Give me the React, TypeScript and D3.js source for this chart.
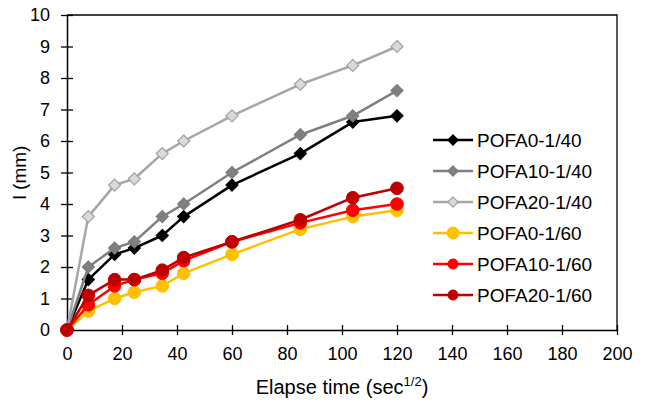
import React, { useEffect, useRef } from "react";
import * as d3 from "d3";

// elapsed time in sqrt(seconds)
const times = [0, 7.75, 17.32, 24.49, 34.64, 42.43, 60, 84.85, 103.92, 120];

const pofa0_40 = [0, 1.6, 2.4, 2.6, 3.0, 3.6, 4.6, 5.6, 6.6, 6.8];
const pofa10_40 = [0, 2.0, 2.6, 2.8, 3.6, 4.0, 5.0, 6.2, 6.8, 7.6];
const pofa20_40 = [0, 3.6, 4.6, 4.8, 5.6, 6.0, 6.8, 7.8, 8.4, 9.0];
const pofa0_60 = [0, 0.6, 1.0, 1.2, 1.4, 1.8, 2.4, 3.2, 3.6, 3.8];
const pofa10_60 = [0, 0.8, 1.4, 1.6, 1.8, 2.2, 2.8, 3.4, 3.8, 4.0];
const pofa20_60 = [0, 1.1, 1.6, 1.6, 1.9, 2.3, 2.8, 3.5, 4.2, 4.5];

const xTicks = [0, 20, 40, 60, 80, 100, 120, 140, 160, 180, 200];
const yTicks = [0, 1, 2, 3, 4, 5, 6, 7, 8, 9, 10];

const series = [
  { name: "POFA0-1/40", values: pofa0_40, line: "#000000", fill: "#000000", stroke: "#000000", shape: "diamond" },
  { name: "POFA10-1/40", values: pofa10_40, line: "#808080", fill: "#808080", stroke: "#7a7a7a", shape: "diamond" },
  { name: "POFA20-1/40", values: pofa20_40, line: "#a6a6a6", fill: "#d9d9d9", stroke: "#a0a0a0", shape: "diamond" },
  { name: "POFA0-1/60", values: pofa0_60, line: "#ffc000", fill: "#ffc000", stroke: "#ffc000", shape: "circle" },
  { name: "POFA10-1/60", values: pofa10_60, line: "#ff0000", fill: "#ff0000", stroke: "#ff0000", shape: "circle" },
  { name: "POFA20-1/60", values: pofa20_60, line: "#c00000", fill: "#c00000", stroke: "#c00000", shape: "circle" },
];

const FONT = "'Liberation Sans', Arial, sans-serif";

const App = () => {
  const svgRef = useRef<SVGSVGElement>(null);

  useEffect(() => {
    const width = 648;
    const height = 403;
    const margin = { top: 15, right: 31, bottom: 73, left: 67 };

    const svg = d3.select(svgRef.current).attr("width", width).attr("height", height);
    svg.selectAll("*").remove();

    const x = d3.scaleLinear().domain([0, 200]).range([margin.left, width - margin.right]);
    const y = d3.scaleLinear().domain([0, 10]).range([height - margin.bottom, margin.top]);

    // frame (top + right)
    svg
      .append("path")
      .attr("d", `M${x(0)},${y(10)}H${x(200)}V${y(0)}`)
      .attr("fill", "none")
      .attr("stroke", "#000")
      .attr("stroke-width", 1.3);

    // x axis
    const xAxis = svg
      .append("g")
      .attr("transform", `translate(0,${y(0)})`)
      .call(d3.axisBottom(x).tickValues(xTicks).tickSize(0).tickPadding(17));
    xAxis.select(".domain").attr("stroke-width", 1.5);
    xAxis.selectAll(".tick line").remove();
    xAxis
      .selectAll(".tick")
      .append("line")
      .attr("y1", -5)
      .attr("y2", 5)
      .attr("stroke", "#000")
      .attr("stroke-width", 1.3);
    xAxis.selectAll("text").attr("font-size", 18).attr("font-family", FONT).attr("fill", "#000");

    // y axis
    const yAxis = svg
      .append("g")
      .attr("transform", `translate(${x(0)},0)`)
      .call(d3.axisLeft(y).tickValues(yTicks).tickSize(0).tickPadding(17));
    yAxis.select(".domain").attr("stroke-width", 1.5);
    yAxis.selectAll(".tick line").remove();
    yAxis
      .selectAll(".tick")
      .append("line")
      .attr("x1", -6)
      .attr("x2", 6)
      .attr("stroke", "#000")
      .attr("stroke-width", 1.3);
    yAxis.selectAll("text").attr("font-size", 18).attr("font-family", FONT).attr("fill", "#000");

    const diamond = (r: number) => `M0,${-r}L${r},0L0,${r}L${-r},0Z`;

    const drawMarker = (g: any, s: any, cx: number, cy: number, scale = 1) => {
      if (s.shape === "diamond") {
        g.append("path")
          .attr("d", diamond(6 * scale))
          .attr("transform", `translate(${cx},${cy})`)
          .attr("fill", s.fill)
          .attr("stroke", s.stroke)
          .attr("stroke-width", 1.2);
      } else {
        g.append("circle")
          .attr("cx", cx)
          .attr("cy", cy)
          .attr("r", 6.3 * scale)
          .attr("fill", s.fill)
          .attr("stroke", s.stroke)
          .attr("stroke-width", 1);
      }
    };

    const line = d3
      .line<number>()
      .x((_, i) => x(times[i]))
      .y((d) => y(d));

    series.forEach((s) => {
      const g = svg.append("g");
      g.append("path")
        .attr("d", line(s.values))
        .attr("fill", "none")
        .attr("stroke", s.line)
        .attr("stroke-width", 2.5)
        .attr("stroke-linejoin", "round");
      s.values.forEach((v, i) => drawMarker(g, s, x(times[i]), y(v)));
    });

    // legend
    const legend = svg.append("g").attr("transform", "translate(433,140)");
    series.forEach((s, i) => {
      const g = legend.append("g").attr("transform", `translate(0,${i * 31})`);
      g.append("line")
        .attr("x1", 0)
        .attr("x2", 40)
        .attr("stroke", s.line)
        .attr("stroke-width", 2.5);
      drawMarker(g, s, 20, 0, s.shape === "circle" ? (i === 3 ? 0.95 : 0.8) : 0.85);
      g.append("text")
        .attr("x", 44)
        .attr("y", 0)
        .attr("dy", "0.35em")
        .attr("font-size", 19)
        .attr("font-family", FONT)
        .attr("fill", "#000")
        .text(s.name);
    });

    // axis titles
    const xt = svg
      .append("text")
      .attr("x", (x(0) + x(200)) / 2)
      .attr("y", 394)
      .attr("text-anchor", "middle")
      .attr("font-size", 20)
      .attr("font-family", FONT)
      .attr("fill", "#000");
    xt.append("tspan").text("Elapse time (sec");
    xt.append("tspan").attr("font-size", 13).attr("dy", -8).text("1/2");
    xt.append("tspan").attr("dy", 8).text(")");

    svg
      .append("text")
      .attr("transform", `translate(26,${(y(0) + y(10)) / 2}) rotate(-90)`)
      .attr("text-anchor", "middle")
      .attr("font-size", 19)
      .attr("font-family", FONT)
      .attr("fill", "#000")
      .text("l (mm)");
  }, []);

  return (
    <svg
      ref={svgRef}
      style={{ position: "absolute", left: 0, top: 0, background: "#fff" }}
    />
  );
};

export default App;
